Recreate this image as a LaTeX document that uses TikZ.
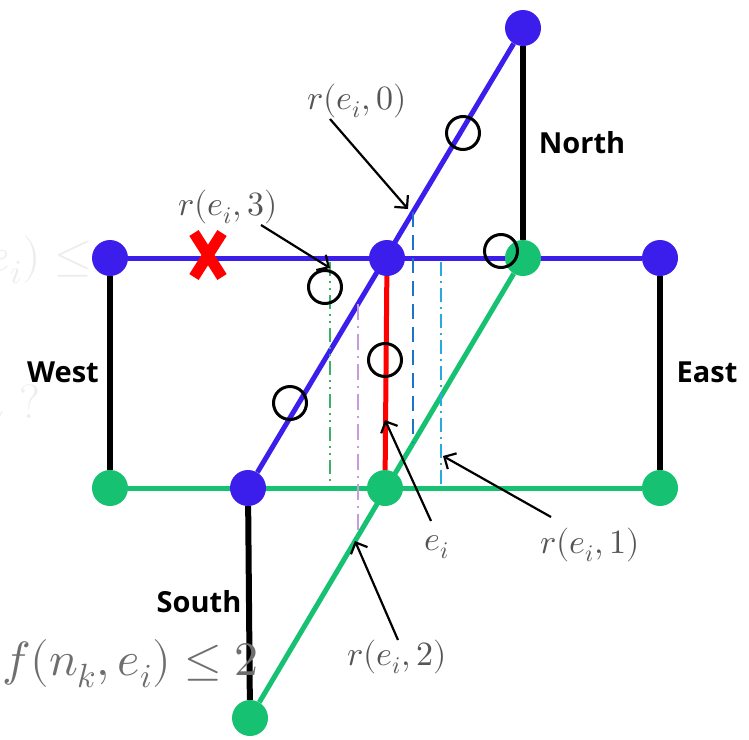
\documentclass[tikz,border=0pt]{standalone}
\usepackage{fontspec}
\usepackage{unicode-math}
\setmathfont{Latin Modern Math}
\newfontfamily\dirfont{Open Sans}
\usetikzlibrary{arrows.meta,positioning,calc}
\definecolor{nodeblue}{RGB}{59,30,235}
\definecolor{nodegreen}{RGB}{23,193,114}
\definecolor{labelgray}{RGB}{85,85,85}
\definecolor{guidegreen}{RGB}{60,175,105}
\definecolor{guidepurple}{RGB}{200,155,220}
\definecolor{guideblue}{RGB}{30,115,200}
\definecolor{guidecyan}{RGB}{40,170,225}
\pgfdeclarelayer{background}
\pgfsetlayers{background,main}

\begin{document}
\begin{tikzpicture}[x=1pt, y=-1pt,
        bdot/.style={circle, fill=nodeblue, inner sep=0pt, minimum size=36pt},
        gdot/.style={circle, fill=nodegreen, inner sep=0pt, minimum size=36pt},
        bline/.style={nodeblue, line width=5pt},
        gline/.style={nodegreen, line width=5pt},
        kline/.style={black, line width=6pt},
        ring/.style={circle, draw=black, line width=3pt, minimum size=33pt, inner sep=0pt},
        ptr/.style={-{Straight Barb[length=9pt, width=18pt]}, line width=2.2pt},
        mlabel/.style={text=labelgray, inner sep=0pt, font=\fontsize{34}{38}\selectfont},
        biglabel/.style={inner sep=0pt, font=\fontsize{48}{52}\selectfont},
        dirlabel/.style={inner sep=0pt, font=\dirfont\bfseries\fontsize{29}{32}\selectfont},
        guide/.style={line width=2.6pt}]
    \useasboundingbox (0,0) rectangle (749,739);

    % faint leftovers and condition
    \node[biglabel, anchor=east, text=black!7] (old1) at (92,260) {$f(n_k,e_i)\leq$};
    \node[biglabel, anchor=east, text=black!7] (old2) at (40,402) {$n$ ?};
    \node[biglabel, anchor=east, text=labelgray!85] (cond) at (259,664) {$f(n_k,e_i)\leq 2$};

    % Blue layer
    \node[bdot] (bw) at (110,258) {};
    \node[bdot] (bc) at (387,258) {};
    \node[bdot] (be) at (660,258) {};
    \node[bdot] (bn) at (523,28) {};
    \node[bdot] (bs) at (248,488) {};

    % Green layer
    \node[gdot] (gn) at (523,258) {};
    \node[gdot] (gw) at (110,488) {};
    \node[gdot] (gc) at (385,488) {};
    \node[gdot] (ge) at (660,488) {};
    \node[gdot] (gs) at (250,718) {};

    \begin{pgfonlayer}{background}
        \draw[kline] (bw) -- (gw);
        \draw[kline] (be) -- (ge);
        \draw[kline] (bn) -- (gn);
        \draw[kline] (bs) -- (gs);
        \draw[gline] (gw) -- (ge);
        \draw[gline] (gs) -- (gn);
        \draw[bline] (bw) -- (be);
        \draw[bline] (bs) -- (bn);
        \draw[red, line width=5pt] (bc) -- (gc);
    \end{pgfonlayer}

    % Guide lines
    \coordinate (g3a) at (330,262);
    \coordinate (g3b) at (330,486);
    \coordinate (g2a) at (358,304);
    \coordinate (g2b) at (358,536);
    \coordinate (g0a) at (413,212);
    \coordinate (g0b) at (413,443);
    \coordinate (g1a) at (441,262);
    \coordinate (g1b) at (441,486);
    \draw[guide, guidegreen, dash pattern=on 14pt off 5pt on 2pt off 5pt on 2pt off 5pt] (g3a) -- (g3b);
    \draw[guide, guidepurple, dash pattern=on 16pt off 6pt on 2pt off 6pt] (g2a) -- (g2b);
    \draw[guide, guideblue, line width=2.8pt, dash pattern=on 15pt off 8pt] (g0a) -- (g0b);
    \draw[guide, guidecyan, dash pattern=on 14pt off 5pt on 2pt off 5pt] (g1a) -- (g1b);

    % Rings
    \node[ring] (c1) at (463,133) {};
    \node[ring] (c2) at (501,251) {};
    \node[ring] (c3) at (325,287) {};
    \node[ring] (c4) at (385,360) {};
    \node[ring] (c5) at (290,403) {};

    % Broken link
    \draw[red, line width=11pt] (194,233) -- (222,277) (222,233) -- (194,277);

    % Direction labels
    \node[dirlabel] (north) at (582,143) {North};
    \node[dirlabel] (west) at (63,372) {West};
    \node[dirlabel] (east) at (707,372) {East};
    \node[dirlabel] (south) at (199,602) {South};

    % Labels with pointers
    \node[mlabel] (lr0) at (357,101) {$r(e_i,0)$};
    \node[mlabel] (lr3) at (228,207) {$r(e_i,3)$};
    \node[mlabel] (lei) at (437,547) {$e_i$};
    \node[mlabel] (lr1) at (590,545) {$r(e_i,1)$};
    \node[mlabel] (lr2) at (397,657) {$r(e_i,2)$};

    \coordinate (a0) at (330,119);
    \coordinate (t0) at (408,209);
    \coordinate (a3) at (261,225);
    \coordinate (t3) at (330,268);
    \coordinate (ai) at (431,521);
    \coordinate (ti) at (385,420);
    \coordinate (a1) at (551,517);
    \coordinate (t1) at (443,456);
    \coordinate (a2) at (398,640);
    \coordinate (t2) at (355,541);
    \draw[ptr] (a0) -- (t0);
    \draw[ptr] (a3) -- (t3);
    \draw[ptr] (ai) -- (ti);
    \draw[ptr] (a1) -- (t1);
    \draw[ptr] (a2) -- (t2);
\end{tikzpicture}
\end{document}
